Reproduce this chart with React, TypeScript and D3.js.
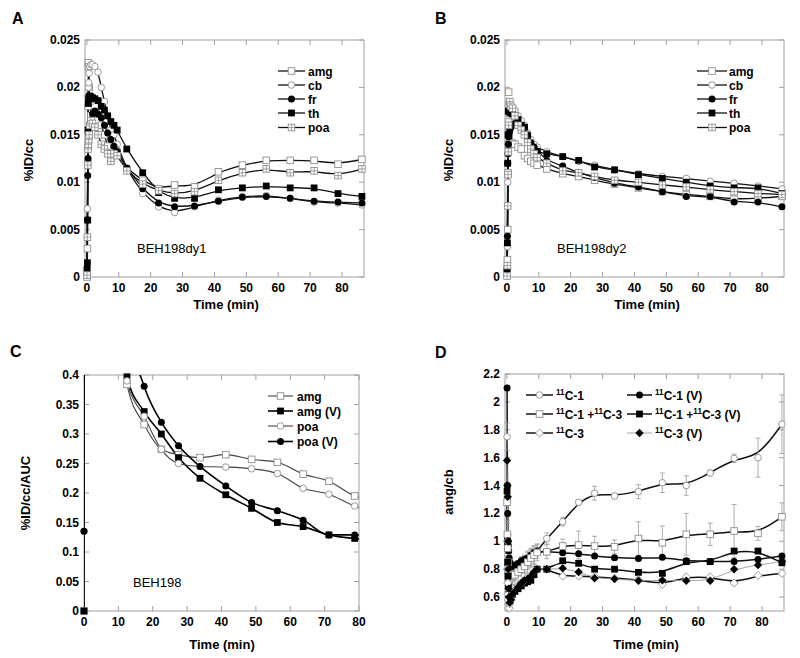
import React from 'react';
import * as d3 from 'd3';

const FONT = "'Liberation Sans', Arial, Helvetica, sans-serif";

// PET frame mid-times (min)
const T = [0.05, 0.15, 0.25, 0.35, 0.45, 0.55, 0.7, 0.9, 1.25, 1.75, 2.5, 3.5, 4.5, 5.5, 6.5, 7.5, 8.5, 9.5,
  12.5, 17.5, 22.5, 27.5, 33.75, 41.25, 48.75, 56.25, 63.75, 71.25, 78.75, 86.25];

// Panel A (BEH198dy1) %ID/cc
const A_AMG = [0.0000, 0.0030, 0.0120, 0.0180, 0.0226, 0.0222, 0.0200, 0.0185, 0.0170, 0.0165, 0.0168, 0.0165, 0.0160, 0.0150, 0.0138, 0.0125, 0.0135, 0.0132,
  0.0114, 0.0102, 0.0093, 0.0097, 0.0095, 0.0111, 0.0118, 0.0123, 0.0123, 0.0123, 0.0119, 0.0124];
const A_CB = [0.0005, 0.0072, 0.0135, 0.0190, 0.0200, 0.0205, 0.0215, 0.0222, 0.0224, 0.0224, 0.0222, 0.0216, 0.0200, 0.0185, 0.0170, 0.0155, 0.0150, 0.0140,
  0.0113, 0.0088, 0.0074, 0.0068, 0.0074, 0.0081, 0.0085, 0.0086, 0.0083, 0.0079, 0.0078, 0.0076];
const A_FR = [0.0010, 0.0060, 0.0107, 0.0125, 0.0140, 0.0150, 0.0155, 0.0160, 0.0165, 0.0172, 0.0175, 0.0172, 0.0168, 0.0160, 0.0152, 0.0145, 0.0138, 0.0132,
  0.0115, 0.0093, 0.0078, 0.0074, 0.0075, 0.0080, 0.0084, 0.0085, 0.0083, 0.0080, 0.0079, 0.0078];
const A_TH = [0.0006, 0.0015, 0.0060, 0.0155, 0.0183, 0.0188, 0.0190, 0.0191, 0.0190, 0.0189, 0.0188, 0.0186, 0.0180, 0.0176, 0.0170, 0.0164, 0.0160, 0.0155,
  0.0135, 0.0110, 0.0089, 0.0083, 0.0083, 0.0092, 0.0094, 0.0096, 0.0094, 0.0094, 0.0088, 0.0085];
const A_POA = [0.0002, 0.0042, 0.0118, 0.0135, 0.0140, 0.0145, 0.0150, 0.0160, 0.0165, 0.0162, 0.0158, 0.0150, 0.0140, 0.0135, 0.0130, 0.0122, 0.0130, 0.0128,
  0.0112, 0.0098, 0.0091, 0.0088, 0.0090, 0.0102, 0.0110, 0.0114, 0.0110, 0.0112, 0.0107, 0.0114];

// Panel B (BEH198dy2) %ID/cc
const B_AMG = [0.0002, 0.0018, 0.0050, 0.0110, 0.0140, 0.0195, 0.0150, 0.0142, 0.0141, 0.0141, 0.0140, 0.0137, 0.0135, 0.0128, 0.0125, 0.0122, 0.0120, 0.0118,
  0.0114, 0.0109, 0.0106, 0.0102, 0.0098, 0.0094, 0.0090, 0.0087, 0.0085, 0.0082, 0.0083, 0.0085];
const B_CB = [0.0005, 0.0032, 0.0100, 0.0130, 0.0155, 0.0165, 0.0170, 0.0172, 0.0175, 0.0178, 0.0176, 0.0170, 0.0165, 0.0160, 0.0152, 0.0145, 0.0140, 0.0137,
  0.0132, 0.0127, 0.0122, 0.0118, 0.0113, 0.0109, 0.0106, 0.0104, 0.0101, 0.0099, 0.0096, 0.0093];
const B_FR = [0.0008, 0.0043, 0.0120, 0.0130, 0.0140, 0.0148, 0.0152, 0.0155, 0.0158, 0.0160, 0.0162, 0.0162, 0.0160, 0.0158, 0.0150, 0.0142, 0.0137, 0.0133,
  0.0123, 0.0117, 0.0110, 0.0105, 0.0099, 0.0095, 0.0090, 0.0085, 0.0085, 0.0079, 0.0079, 0.0074];
const B_TH = [0.0009, 0.0036, 0.0120, 0.0150, 0.0175, 0.0176, 0.0175, 0.0174, 0.0173, 0.0172, 0.0170, 0.0166, 0.0160, 0.0158, 0.0147, 0.0138, 0.0134, 0.0132,
  0.0130, 0.0127, 0.0123, 0.0116, 0.0113, 0.0108, 0.0104, 0.0100, 0.0096, 0.0094, 0.0094, 0.0088];
const B_POA = [0.0001, 0.0012, 0.0075, 0.0108, 0.0132, 0.0160, 0.0182, 0.0185, 0.0180, 0.0178, 0.0170, 0.0160, 0.0155, 0.0150, 0.0142, 0.0135, 0.0130, 0.0126,
  0.0120, 0.0112, 0.0110, 0.0106, 0.0102, 0.0100, 0.0097, 0.0095, 0.0092, 0.0090, 0.0088, 0.0087];

// Panel C (BEH198) %ID/cc/AUC
const TC = [0, 0.5, 12.5, 17.5, 22.5, 27.5, 33.75, 41.25, 48.75, 56.25, 63.75, 71.25, 78.75, 86.25];
const C_AMG = [0, 2.5, 0.384, 0.316, 0.274, 0.265, 0.260, 0.265, 0.257, 0.252, 0.232, 0.220, 0.195, 0.185];
const C_AMGV = [0, 2.5, 0.397, 0.338, 0.300, 0.260, 0.225, 0.197, 0.174, 0.150, 0.143, 0.129, 0.123, 0.120];
const C_POA = [0.135, 2.5, 0.390, 0.330, 0.274, 0.250, 0.245, 0.244, 0.241, 0.233, 0.208, 0.198, 0.178, 0.168];
const C_POAV = [0.135, 2.5, 0.500, 0.381, 0.320, 0.280, 0.245, 0.212, 0.184, 0.170, 0.154, 0.129, 0.129, 0.125];

// Panel D amg/cb ratios
const D_C1 = [1.75, 1.30, 1.05, 0.90, 0.80, 0.72, 0.70, 0.72, 0.75, 0.76, 0.77, 0.80, 0.82, 0.84, 0.86, 0.88, 0.90, 0.93,
  1.02, 1.14, 1.28, 1.345, 1.325, 1.356, 1.42, 1.40, 1.49, 1.595, 1.60, 1.84];
const D_C1_ERR = [0.10, 0.10, 0.08, 0.06, 0.05, 0.05, 0.04, 0.04, 0.04, 0.04, 0.05, 0.05, 0.05, 0.06, 0.06, 0.06, 0.06, 0.05,
  0.04, 0.03, 0.02, 0.05, 0.02, 0.05, 0.07, 0.07, 0.02, 0.03, 0.14, 0.21];
const D_C1V = [2.10, 1.40, 1.20, 1.00, 0.97, 0.93, 0.88, 0.85, 0.83, 0.82, 0.83, 0.84, 0.86, 0.87, 0.88, 0.90, 0.92, 0.93,
  0.925, 0.917, 0.91, 0.895, 0.882, 0.877, 0.885, 0.86, 0.855, 0.855, 0.87, 0.895];
const D_C13 = [1.28, 1.05, 0.95, 0.85, 0.78, 0.74, 0.72, 0.73, 0.74, 0.75, 0.76, 0.78, 0.80, 0.82, 0.85, 0.88, 0.90, 0.92,
  0.925, 0.966, 0.973, 0.966, 0.96, 1.02, 0.99, 1.05, 1.05, 1.074, 1.057, 1.176];
const D_C13_ERR = [0.10, 0.10, 0.08, 0.06, 0.05, 0.05, 0.05, 0.05, 0.06, 0.06, 0.08, 0.08, 0.09, 0.08, 0.08, 0.07, 0.07, 0.06,
  0.05, 0.05, 0.10, 0.07, 0.05, 0.12, 0.12, 0.15, 0.08, 0.19, 0.05, 0.10];
const D_C13V = [1.36, 1.00, 0.85, 0.75, 0.68, 0.62, 0.60, 0.58, 0.60, 0.62, 0.64, 0.66, 0.68, 0.70, 0.71, 0.72, 0.76, 0.80,
  0.80, 0.86, 0.842, 0.80, 0.80, 0.777, 0.77, 0.854, 0.854, 0.93, 0.93, 0.846];
const D_C3 = [1.00, 0.80, 0.70, 0.62, 0.58, 0.55, 0.52, 0.55, 0.58, 0.62, 0.65, 0.68, 0.70, 0.72, 0.74, 0.76, 0.78, 0.80,
  0.80, 0.75, 0.75, 0.745, 0.735, 0.725, 0.69, 0.745, 0.745, 0.70, 0.755, 0.77];
const D_C3V = [1.58, 1.40, 1.32, 1.00, 0.80, 0.66, 0.60, 0.56, 0.58, 0.62, 0.64, 0.67, 0.70, 0.72, 0.73, 0.75, 0.78, 0.80,
  0.80, 0.806, 0.78, 0.735, 0.73, 0.717, 0.72, 0.717, 0.717, 0.80, 0.83, 0.855];

// Tick values
const X_TICKS = [0, 10, 20, 30, 40, 50, 60, 70, 80];
const Y_TICKS_AB = [0, 0.005, 0.01, 0.015, 0.02, 0.025];
const Y_TICKS_C = [0, 0.05, 0.1, 0.15, 0.2, 0.25, 0.3, 0.35, 0.4];
const Y_TICKS_D = [0.6, 0.8, 1, 1.2, 1.4, 1.6, 1.8, 2, 2.2];

type Seg = { t: string; sup?: boolean };
type Series = {
  name: Seg[];
  values: number[];
  marker: string;
  stroke: string;
  width: number;
  err?: number[];
};

const GRAY = '#8e8e8e';

function Marker({ kind, x, y }: { kind: string; x: number; y: number }) {
  const s = 3.3;
  switch (kind) {
    case 'sqOpen':
      return <rect x={x - s} y={y - s} width={2 * s} height={2 * s} fill="#fff" stroke={GRAY} strokeWidth={0.9} />;
    case 'sqCross':
      return (
        <g>
          <rect x={x - s} y={y - s} width={2 * s} height={2 * s} fill="#fff" stroke={GRAY} strokeWidth={0.9} />
          <path d={`M${x - s},${y}H${x + s}M${x},${y - s}V${y + s}`} stroke={GRAY} strokeWidth={0.8} />
        </g>
      );
    case 'circOpen':
      return <circle cx={x} cy={y} r={3.3} fill="#fff" stroke={GRAY} strokeWidth={0.9} />;
    case 'circFill':
      return <circle cx={x} cy={y} r={3.5} fill="#000" />;
    case 'sqFill':
      return <rect x={x - 3.4} y={y - 3.4} width={6.8} height={6.8} fill="#000" />;
    case 'diaOpen':
      return <path d={`M${x},${y - 4}L${x + 4},${y}L${x},${y + 4}L${x - 4},${y}Z`} fill="#fff" stroke={GRAY} strokeWidth={0.9} />;
    case 'diaFill':
      return <path d={`M${x},${y - 4.2}L${x + 4.2},${y}L${x},${y + 4.2}L${x - 4.2},${y}Z`} fill="#000" />;
    default:
      return null;
  }
}

function Label({ segs, x, y, size }: { segs: Seg[]; x: number; y: number; size: number }) {
  let shifted = false;
  return (
    <text x={x} y={y} fontSize={size} fontWeight="bold" fill="#000">
      {segs.map((s, i) => {
        let dy = 0;
        if (s.sup && !shifted) { dy = -5; shifted = true; }
        else if (!s.sup && shifted) { dy = 5; shifted = false; }
        return (
          <tspan key={i} dy={dy} fontSize={s.sup ? size * 0.68 : size}>{s.t}</tspan>
        );
      })}
    </text>
  );
}

type PanelCfg = {
  id: string;
  frame: { l: number; r: number; t: number; b: number };
  xDomain: [number, number];
  xMax: number;
  yDomain: [number, number];
  yTicks: number[];
  times: number[];
  series: Series[];
  curve: any;
  legend: { x1: number; x2: number; tx: number; y: number }[];
  legendSize: number;
  note: { text: string; x: number; y: number };
  yLabel: { text: string; x: number; y: number };
  xLabel: { x: number; y: number };
  letter: { text: string; x: number; y: number };
};

function Panel({ cfg }: { cfg: PanelCfg }) {
  const { frame: f } = cfg;
  const x = d3.scaleLinear().domain(cfg.xDomain).range([f.l, f.r]);
  const y = d3.scaleLinear().domain(cfg.yDomain).range([f.b, f.t]);
  const line = d3.line<[number, number]>().x(d => x(d[0])).y(d => y(d[1])).curve(cfg.curve);
  const inside = (t: number, v: number) =>
    t >= cfg.xDomain[0] && t <= cfg.xMax + 0.01 && v >= cfg.yDomain[0] - 1e-9 && v <= cfg.yDomain[1] + 1e-9;
  const clipId = cfg.id + '-clip';
  const tick = 5;
  return (
    <g>
      <defs>
        <clipPath id={clipId}>
          <rect x={f.l} y={f.t} width={f.r - f.l} height={f.b - f.t} />
        </clipPath>
      </defs>
      <text x={cfg.letter.x} y={cfg.letter.y} fontSize={16} fontWeight="bold">{cfg.letter.text}</text>
      <rect x={f.l} y={f.t} width={f.r - f.l} height={f.b - f.t} fill="none" stroke="#a0a0a0" strokeWidth={1} />
      {X_TICKS.filter(t => t <= cfg.xMax).map(t => (
        <g key={'xt' + t}>
          <line x1={x(t)} x2={x(t)} y1={f.b} y2={f.b - tick} stroke="#a0a0a0" />
          <line x1={x(t)} x2={x(t)} y1={f.t} y2={f.t + tick} stroke="#a0a0a0" />
          <text x={x(t)} y={f.b + 15} fontSize={12} fontWeight="bold" textAnchor="middle">{String(t)}</text>
        </g>
      ))}
      {cfg.yTicks.map(v => (
        <g key={'yt' + v}>
          <line x1={f.l} x2={f.l + tick} y1={y(v)} y2={y(v)} stroke="#a0a0a0" />
          <line x1={f.r} x2={f.r - tick} y1={y(v)} y2={y(v)} stroke="#a0a0a0" />
          <text x={f.l - 5} y={y(v) + 4} fontSize={12} fontWeight="bold" textAnchor="end">{String(v)}</text>
        </g>
      ))}
      <text x={cfg.xLabel.x} y={cfg.xLabel.y} fontSize={13} fontWeight="bold" textAnchor="middle">Time (min)</text>
      <text transform={`translate(${cfg.yLabel.x},${cfg.yLabel.y}) rotate(-90)`} fontSize={13} fontWeight="bold" textAnchor="middle">{cfg.yLabel.text}</text>
      <text x={cfg.note.x} y={cfg.note.y} fontSize={13}>{cfg.note.text}</text>
      <g clipPath={`url(#${clipId})`}>
        {cfg.series.map((s, i) => (
          <path key={'l' + i} d={line(cfg.times.map((t, j) => [t, s.values[j]] as [number, number])) || ''}
            fill="none" stroke={s.stroke} strokeWidth={s.width} />
        ))}
      </g>
      {cfg.series.map((s, i) => s.err ? (
        <g key={'e' + i} stroke="#9a9a9a" strokeWidth={0.8}>
          {cfg.times.map((t, j) => {
            if (!inside(t, s.values[j])) return null;
            const e = s.err![j];
            const xx = x(t);
            const y1 = y(Math.min(cfg.yDomain[1], s.values[j] + e));
            const y2 = y(Math.max(cfg.yDomain[0], s.values[j] - e));
            return (
              <g key={j}>
                <line x1={xx} x2={xx} y1={y1} y2={y2} />
                <line x1={xx - 2.5} x2={xx + 2.5} y1={y1} y2={y1} />
                <line x1={xx - 2.5} x2={xx + 2.5} y1={y2} y2={y2} />
              </g>
            );
          })}
        </g>
      ) : null)}
      {cfg.series.map((s, i) => (
        <g key={'m' + i}>
          {cfg.times.map((t, j) => inside(t, s.values[j]) ? (
            <Marker key={j} kind={s.marker} x={x(t)} y={y(s.values[j])} />
          ) : null)}
        </g>
      ))}
      {cfg.series.map((s, i) => {
        const L = cfg.legend[i];
        return (
          <g key={'lg' + i}>
            <line x1={L.x1} x2={L.x2} y1={L.y} y2={L.y} stroke={s.stroke} strokeWidth={s.width} />
            <Marker kind={s.marker} x={(L.x1 + L.x2) / 2} y={L.y} />
            <Label segs={s.name} x={L.tx} y={L.y + 4.5} size={cfg.legendSize} />
          </g>
        );
      })}
    </g>
  );
}

const LINE = '#111';

function abSeries(amg: number[], cb: number[], fr: number[], th: number[], poa: number[]): Series[] {
  return [
    { name: [{ t: 'amg' }], values: amg, marker: 'sqOpen', stroke: LINE, width: 1.3 },
    { name: [{ t: 'cb' }], values: cb, marker: 'circOpen', stroke: LINE, width: 1.3 },
    { name: [{ t: 'fr' }], values: fr, marker: 'circFill', stroke: LINE, width: 1.3 },
    { name: [{ t: 'th' }], values: th, marker: 'sqFill', stroke: LINE, width: 1.3 },
    { name: [{ t: 'poa' }], values: poa, marker: 'sqCross', stroke: LINE, width: 1.3 },
  ];
}

const AB_ROWS = [71, 85, 99, 113, 127.5];

const PANEL_A: PanelCfg = {
  id: 'pA',
  frame: { l: 85, r: 364, t: 40, b: 277 },
  xDomain: [-0.6, 86.9],
  xMax: 86.9,
  yDomain: [0, 0.025],
  yTicks: Y_TICKS_AB,
  times: T,
  series: abSeries(A_AMG, A_CB, A_FR, A_TH, A_POA),
  curve: d3.curveBasis,
  legend: AB_ROWS.map(r => ({ x1: 278, x2: 305, tx: 308, y: r })),
  legendSize: 12,
  note: { text: 'BEH198dy1', x: 137, y: 253 },
  yLabel: { text: '%ID/cc', x: 33, y: 160 },
  xLabel: { x: 226, y: 309 },
  letter: { text: 'A', x: 12, y: 24 },
};

const PANEL_B: PanelCfg = {
  ...PANEL_A,
  id: 'pB',
  frame: { l: 505, r: 784, t: 40, b: 277 },
  series: abSeries(B_AMG, B_CB, B_FR, B_TH, B_POA),
  legend: AB_ROWS.map(r => ({ x1: 697, x2: 727, tx: 729, y: r })),
  note: { text: 'BEH198dy2', x: 557, y: 253 },
  yLabel: { text: '%ID/cc', x: 453, y: 160 },
  xLabel: { x: 647, y: 309 },
  letter: { text: 'B', x: 435, y: 24 },
};

const PANEL_C: PanelCfg = {
  id: 'pC',
  frame: { l: 84, r: 359, t: 375, b: 611 },
  xDomain: [0, 80],
  xMax: 80,
  yDomain: [0, 0.4],
  yTicks: Y_TICKS_C,
  times: TC,
  series: [
    { name: [{ t: 'amg' }], values: C_AMG, marker: 'sqOpen', stroke: '#444', width: 1.1 },
    { name: [{ t: 'amg (V)' }], values: C_AMGV, marker: 'sqFill', stroke: '#000', width: 1.6 },
    { name: [{ t: 'poa' }], values: C_POA, marker: 'circOpen', stroke: '#444', width: 1.1 },
    { name: [{ t: 'poa (V)' }], values: C_POAV, marker: 'circFill', stroke: '#000', width: 1.6 },
  ],
  curve: d3.curveMonotoneX,
  legend: [396, 411, 426, 441.5].map(r => ({ x1: 268, x2: 293, tx: 297, y: r })),
  legendSize: 12,
  note: { text: 'BEH198', x: 133, y: 587 },
  yLabel: { text: '%ID/cc/AUC', x: 30, y: 493 },
  xLabel: { x: 222, y: 649 },
  letter: { text: 'C', x: 10, y: 357 },
};

const PANEL_D: PanelCfg = {
  id: 'pD',
  frame: { l: 505, r: 784, t: 374, b: 611 },
  xDomain: [-0.6, 86.9],
  xMax: 86.9,
  yDomain: [0.5, 2.2],
  yTicks: Y_TICKS_D,
  times: T,
  series: [
    { name: [{ t: '11', sup: true }, { t: 'C-1' }], values: D_C1, marker: 'circOpen', stroke: '#111', width: 1.5, err: D_C1_ERR },
    { name: [{ t: '11', sup: true }, { t: 'C-1 (V)' }], values: D_C1V, marker: 'circFill', stroke: '#111', width: 1.5 },
    { name: [{ t: '11', sup: true }, { t: 'C-1 +' }, { t: '11', sup: true }, { t: 'C-3' }], values: D_C13, marker: 'sqOpen', stroke: '#111', width: 1.5, err: D_C13_ERR },
    { name: [{ t: '11', sup: true }, { t: 'C-1 +' }, { t: '11', sup: true }, { t: 'C-3 (V)' }], values: D_C13V, marker: 'sqFill', stroke: '#111', width: 1.5 },
    { name: [{ t: '11', sup: true }, { t: 'C-3' }], values: D_C3, marker: 'diaOpen', stroke: '#111', width: 1.5 },
    { name: [{ t: '11', sup: true }, { t: 'C-3 (V)' }], values: D_C3V, marker: 'diaFill', stroke: '#9a9a9a', width: 0.9 },
  ],
  curve: d3.curveBasis,
  legend: [
    { x1: 526, x2: 553, tx: 556, y: 395 },
    { x1: 627, x2: 652, tx: 655, y: 395 },
    { x1: 526, x2: 553, tx: 556, y: 414 },
    { x1: 627, x2: 652, tx: 655, y: 414 },
    { x1: 526, x2: 553, tx: 556, y: 433 },
    { x1: 627, x2: 652, tx: 655, y: 433 },
  ],
  legendSize: 12,
  note: { text: '', x: 0, y: 0 },
  yLabel: { text: 'amg/cb', x: 453, y: 492 },
  xLabel: { x: 646, y: 649 },
  letter: { text: 'D', x: 435, y: 358 },
};

export default function App() {
  return (
    <div style={{ position: 'absolute', left: 0, top: 0 }}>
      <svg width={800} height={658} style={{ display: 'block', background: '#fff' }} fontFamily={FONT}>
        <Panel cfg={PANEL_A} />
        <Panel cfg={PANEL_B} />
        <Panel cfg={PANEL_C} />
        <Panel cfg={PANEL_D} />
      </svg>
    </div>
  );
}
